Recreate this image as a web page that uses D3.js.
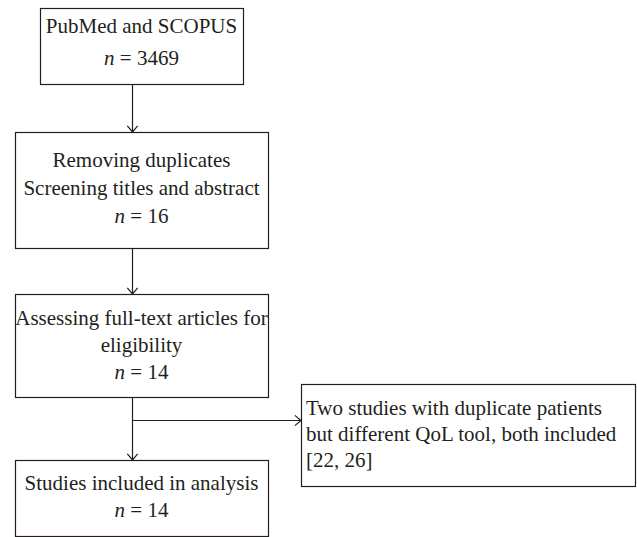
<!DOCTYPE html>
<html>
<head>
<meta charset="utf-8">
<script src="https://cdn.jsdelivr.net/npm/d3@7"></script>
<style>
  body { margin: 0; background: #fff; }
  text { font-family: "Liberation Serif", "DejaVu Serif", serif; font-size: 21px; fill: #231f20; }
</style>
</head>
<body>
<script>
'use strict';

// flow steps (main column)
const stepLabels = [
  ["PubMed and SCOPUS"],
  ["Removing duplicates", "Screening titles and abstract"],
  ["Assessing full-text articles for", "eligibility"],
  ["Studies included in analysis"]
];
const stepCounts = [3469, 16, 14, 14];

// side note
const sideLabels = ["Two studies with duplicate patients", "but different QoL tool, both included", "[22, 26]"];

// layout of boxes (pixels)
const boxes = [
  { x: 40, y: 8, w: 203, h: 76, first: 33, step: 32 },
  { x: 15, y: 132, w: 253, h: 116, first: 167, step: 28 },
  { x: 15, y: 294, w: 253, h: 103, first: 325, step: 27 },
  { x: 15, y: 460, w: 253, h: 76, first: 490, step: 27 }
];
const side = { x: 301, y: 384, w: 335, h: 102, first: 415, step: 26, branchY: 420 };
const axisX = 132;

const svg = d3.select('body').append('svg')
  .attr('width', 637)
  .attr('height', 537);

const ink = '#231f20';

// draw main boxes
const g = svg.selectAll('.step')
  .data(stepLabels)
  .enter()
  .append('g')
  .attr('class', 'step');

g.append('rect')
  .attr('x', (d, i) => boxes[i].x + 0.5)
  .attr('y', (d, i) => boxes[i].y + 0.5)
  .attr('width', (d, i) => boxes[i].w)
  .attr('height', (d, i) => boxes[i].h)
  .attr('fill', 'none')
  .attr('stroke', ink)
  .attr('stroke-width', 1.2);

g.each(function (d, i) {
  const b = boxes[i];
  const cx = b.x + b.w / 2;
  const sel = d3.select(this);
  d.forEach((line, j) => {
    sel.append('text')
      .attr('x', cx)
      .attr('y', b.first + j * b.step)
      .attr('text-anchor', 'middle')
      .text(line);
  });
  const t = sel.append('text')
    .attr('x', cx)
    .attr('y', b.first + d.length * b.step)
    .attr('text-anchor', 'middle');
  t.append('tspan').style('font-style', 'italic').text('n');
  t.append('tspan').text(' = ' + stepCounts[i]);
});

// side box
svg.append('rect')
  .attr('x', side.x + 0.5)
  .attr('y', side.y + 0.5)
  .attr('width', side.w - 1)
  .attr('height', side.h)
  .attr('fill', 'none')
  .attr('stroke', ink)
  .attr('stroke-width', 1.2);

svg.selectAll('.side')
  .data(sideLabels)
  .enter()
  .append('text')
  .attr('class', 'side')
  .attr('x', side.x + 5)
  .attr('y', (d, i) => side.first + i * side.step)
  .text(d => d);

// arrows
function arrow(x1, y1, x2, y2) {
  svg.append('line')
    .attr('x1', x1).attr('y1', y1)
    .attr('x2', x2).attr('y2', y2)
    .attr('stroke', ink)
    .attr('stroke-width', 1.2);
  const a = Math.atan2(y2 - y1, x2 - x1);
  const len = 8, spread = Math.PI / 4.5;
  const p = [
    [x2 - len * Math.cos(a - spread), y2 - len * Math.sin(a - spread)],
    [x2, y2],
    [x2 - len * Math.cos(a + spread), y2 - len * Math.sin(a + spread)]
  ];
  svg.append('path')
    .attr('d', d3.line()(p))
    .attr('fill', 'none')
    .attr('stroke', ink)
    .attr('stroke-width', 1.2);
}

for (let i = 0; i < boxes.length - 1; i++) {
  arrow(axisX + 0.5, boxes[i].y + boxes[i].h + 0.5, axisX + 0.5, boxes[i + 1].y);
}
arrow(axisX + 0.5, side.branchY + 0.5, side.x, side.branchY + 0.5);
</script>
</body>
</html>
